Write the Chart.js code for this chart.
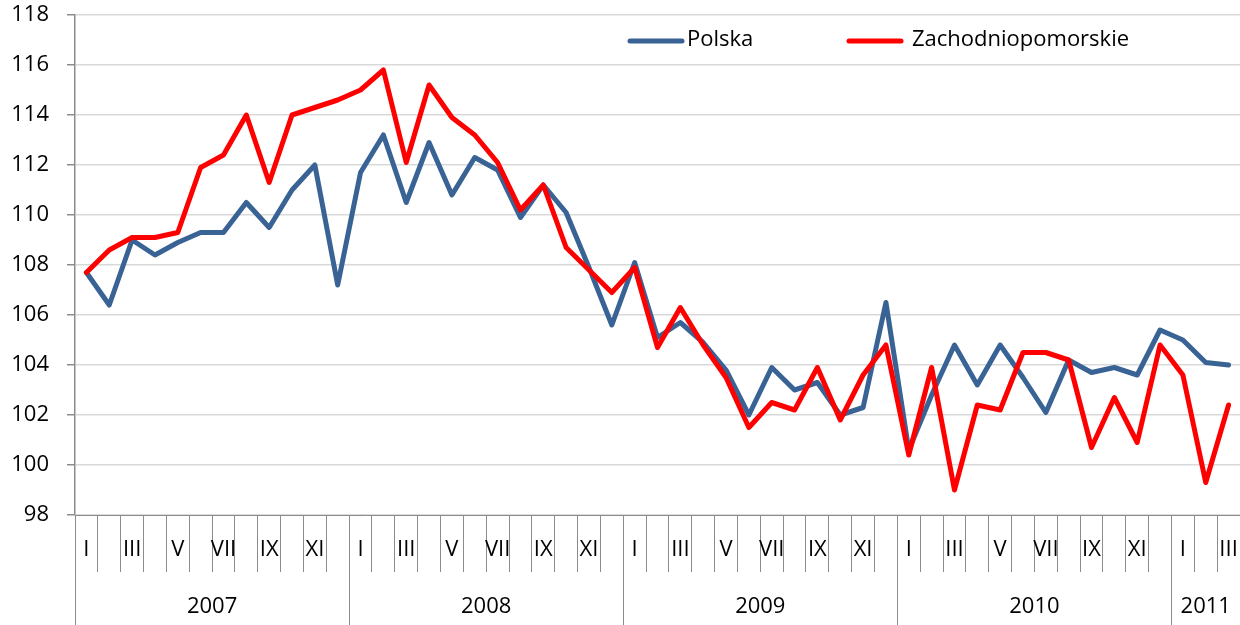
<!DOCTYPE html>
<html lang="pl">
<head>
<meta charset="utf-8">
<title>Polska / Zachodniopomorskie</title>
<script src="https://cdn.jsdelivr.net/npm/chart.js@4.4.1/dist/chart.umd.min.js"></script>
<style>
  html, body { margin: 0; padding: 0; background: #fff; }
  #chart-wrap { width: 1240px; height: 625px; position: relative; }
</style>
</head>
<body>
<div id="chart-wrap"><canvas id="chart"></canvas></div>
<script>
// miesiące (rzymskie) i lata
const monthNames = ['I', 'II', 'III', 'IV', 'V', 'VI', 'VII', 'VIII', 'IX', 'X', 'XI', 'XII'];
const years = ['2007', '2008', '2009', '2010', '2011'];
const monthsPerYear = [12, 12, 12, 12, 3];

const polska = [
  107.7, 106.4, 109.0, 108.4, 108.9, 109.3, 109.3, 110.5, 109.5, 111.0, 112.0, 107.2,
  111.7, 113.2, 110.5, 112.9, 110.8, 112.3, 111.8, 109.9, 111.2, 110.1, 107.9, 105.6,
  108.1, 105.1, 105.7, 104.9, 103.8, 102.0, 103.9, 103.0, 103.3, 102.0, 102.3, 106.5,
  100.6, 102.8, 104.8, 103.2, 104.8, 103.5, 102.1, 104.2, 103.7, 103.9, 103.6, 105.4,
  105.0, 104.1, 104.0
];
const zachodniopomorskie = [
  107.7, 108.6, 109.1, 109.1, 109.3, 111.9, 112.4, 114.0, 111.3, 114.0, 114.3, 114.6,
  115.0, 115.8, 112.1, 115.2, 113.9, 113.2, 112.1, 110.2, 111.2, 108.7, 107.8, 106.9,
  107.9, 104.7, 106.3, 104.8, 103.5, 101.5, 102.5, 102.2, 103.9, 101.8, 103.6, 104.8,
  100.4, 103.9, 99.0, 102.4, 102.2, 104.5, 104.5, 104.2, 100.7, 102.7, 100.9, 104.8,
  103.6, 99.3, 102.4
];

const yMin = 98;
const yMax = 118;
const yStep = 2;

// etykiety osi X: miesiąc dla każdego punktu
const labels = [];
monthsPerYear.forEach(n => {
  for (let m = 0; m < n; m++) labels.push(monthNames[m]);
});

const FONT = "'Open Sans', 'DejaVu Sans', sans-serif";
const AXIS_GREY = '#8c8c8c';

// lata pod miesiącami + długie pionowe kreski
const yearRowPlugin = {
  id: 'yearRow',
  afterDraw(chart) {
    const ctx = chart.ctx;
    const x = chart.scales.x;
    const top = chart.chartArea.bottom;
    const bottom = chart.height;
    const half = (x.getPixelForValue(1) - x.getPixelForValue(0)) / 2;

    ctx.save();
    ctx.strokeStyle = AXIS_GREY;
    ctx.lineWidth = 1;
    ctx.fillStyle = '#000';
    ctx.font = `22px ${FONT}`;
    ctx.textAlign = 'center';
    ctx.textBaseline = 'middle';

    let start = 0;
    years.forEach((yr, i) => {
      const end = start + monthsPerYear[i] - 1;
      const left = x.getPixelForValue(start) - half;
      const right = Math.min(x.getPixelForValue(end) + half, chart.chartArea.right);
      const lx = Math.round(left) + 0.5;
      ctx.beginPath();
      ctx.moveTo(lx, top);
      ctx.lineTo(lx, bottom);
      ctx.stroke();
      ctx.fillText(yr, (left + right) / 2, 607);
      start = end + 1;
    });
    ctx.restore();
  }
};

// legenda rysowana w obszarze wykresu
const legendPlugin = {
  id: 'inlineLegend',
  afterDraw(chart) {
    const ctx = chart.ctx;
    const items = [
      { ds: chart.data.datasets[0], x: 630, gap: 57 },
      { ds: chart.data.datasets[1], x: 849, gap: 63 }
    ];
    ctx.save();
    ctx.font = `22px ${FONT}`;
    ctx.textBaseline = 'middle';
    ctx.textAlign = 'left';
    items.forEach(it => {
      ctx.strokeStyle = it.ds.borderColor;
      ctx.lineWidth = 5;
      ctx.lineCap = 'round';
      ctx.beginPath();
      ctx.moveTo(it.x, 41);
      ctx.lineTo(it.x + 52, 41);
      ctx.stroke();
      ctx.fillStyle = '#000';
      ctx.fillText(it.ds.label, it.x + it.gap, 40);
    });
    ctx.restore();
  }
};

const ctx = document.getElementById('chart').getContext('2d');
new Chart(ctx, {
  type: 'line',
  data: {
    labels: labels,
    datasets: [
      {
        label: 'Polska',
        data: polska,
        borderColor: '#3a6395',
        backgroundColor: '#3a6395',
        borderWidth: 5,
        pointRadius: 0,
        tension: 0,
        borderJoinStyle: 'round',
        borderCapStyle: 'round',
        order: 2
      },
      {
        label: 'Zachodniopomorskie',
        data: zachodniopomorskie,
        borderColor: '#ff0000',
        backgroundColor: '#ff0000',
        borderWidth: 5,
        pointRadius: 0,
        tension: 0,
        borderJoinStyle: 'round',
        borderCapStyle: 'round',
        order: 1
      }
    ]
  },
  options: {
    responsive: true,
    maintainAspectRatio: false,
    animation: false,
    layout: { padding: { top: 15, right: 0, left: 0, bottom: 0 } },
    plugins: {
      legend: { display: false },
      tooltip: { enabled: false }
    },
    scales: {
      x: {
        type: 'category',
        offset: true,
        afterFit: (scale) => {
          scale.height = 110;
          scale.paddingLeft = 0;
          scale.paddingRight = 0;
        },
        grid: {
          offset: true,
          drawOnChartArea: false,
          drawTicks: true,
          tickLength: 57,
          tickColor: AXIS_GREY,
          color: AXIS_GREY
        },
        border: { display: true, color: AXIS_GREY, width: 1 },
        ticks: {
          autoSkip: false,
          maxRotation: 0,
          minRotation: 0,
          padding: -35,
          color: '#000',
          font: { family: FONT, size: 22 },
          callback: function (value, index) {
            return index % 2 === 0 ? this.getLabelForValue(value) : '';
          }
        }
      },
      y: {
        min: yMin,
        max: yMax,
        afterFit: (scale) => {
          scale.width = 75;
          scale.paddingTop = 0;
          scale.paddingBottom = 0;
        },
        grid: {
          color: '#d9d9d9',
          lineWidth: 1.5,
          tickColor: AXIS_GREY,
          tickLength: 8
        },
        border: { display: true, color: AXIS_GREY, width: 1.5 },
        ticks: {
          stepSize: yStep,
          padding: 18,
          color: '#000',
          font: { family: FONT, size: 22 }
        }
      }
    }
  },
  plugins: [yearRowPlugin, legendPlugin]
});
</script>
</body>
</html>
